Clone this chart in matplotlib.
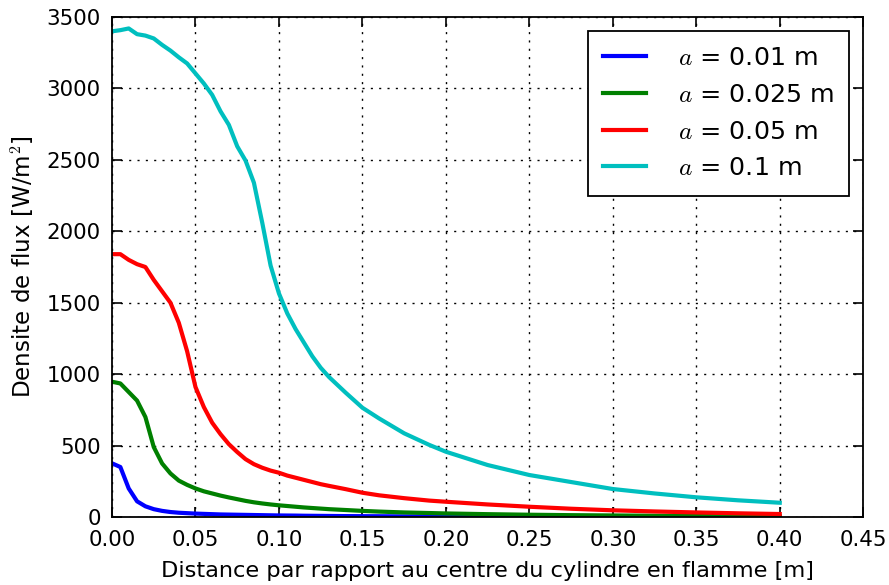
import numpy as np
import matplotlib
matplotlib.use('Agg')
import matplotlib.pyplot as plt

# distance from the cylinder centre [m]
distance = [0.0, 0.005, 0.01, 0.015, 0.02, 0.025, 0.03, 0.035, 0.04, 0.045,
            0.05, 0.055, 0.06, 0.065, 0.07, 0.075, 0.08, 0.085, 0.09, 0.095,
            0.1, 0.105, 0.11, 0.115, 0.12, 0.125, 0.13, 0.14, 0.15, 0.16,
            0.175, 0.19, 0.2, 0.225, 0.25, 0.275, 0.3, 0.325, 0.35, 0.375, 0.4]

# flux density [W/m^2] for each cylinder radius
flux_a001 = [376, 350, 200, 110, 75, 55, 43, 35, 30, 27,
             24, 22, 20, 18, 17, 16, 15, 14, 13, 12,
             11, 10.5, 10, 9, 8.5, 8, 7.5, 6.5, 6, 5.5,
             4.5, 4, 3.5, 3, 2.5, 2, 1.7, 1.5, 1.3, 1.1, 1]
flux_a0025 = [947, 935, 875, 815, 700, 490, 375, 305, 255, 225,
              200, 180, 165, 150, 137, 125, 113, 103, 95, 88,
              82, 77, 72, 67, 63, 59, 55, 49, 43, 38,
              32, 28, 25, 20, 16, 13, 11, 9, 8, 7, 6]
flux_a005 = [1840, 1840, 1800, 1770, 1750, 1660, 1580, 1500, 1360, 1160,
             910, 770, 660, 580, 510, 455, 405, 370, 345, 325,
             310, 290, 275, 260, 245, 230, 218, 195, 170, 152,
             132, 115, 107, 88, 72, 58, 47, 39, 32, 26, 21]
flux_a01 = [3400, 3408, 3420, 3380, 3370, 3350, 3305, 3265, 3218, 3175,
            3105, 3035, 2955, 2840, 2745, 2595, 2495, 2340, 2060, 1760,
            1565, 1425, 1315, 1220, 1125, 1045, 980, 870, 765, 690,
            586, 505, 457, 364, 294, 245, 196, 165, 138, 117, 100]

labels = [r'$a$ = 0.01 m', r'$a$ = 0.025 m', r'$a$ = 0.05 m', r'$a$ = 0.1 m']
colors = ['b', 'g', 'r', 'c']

plt.rcParams['mathtext.fontset'] = 'cm'
plt.rcParams['font.family'] = ['DejaVu Sans']

fig = plt.figure(figsize=(8.89, 5.85), dpi=100)
ax = fig.add_axes([0.126, 0.1162, 0.845, 0.8547])

for y, lab, c in zip([flux_a001, flux_a0025, flux_a005, flux_a01], labels, colors):
    ax.plot(distance, y, color=c, lw=3.0, label=lab)

ax.set_xlim(0, 0.45)
ax.set_ylim(0, 3500)
ax.set_xticks(np.arange(0, 0.451, 0.05))
ax.set_yticks(np.arange(0, 3501, 500))
ax.xaxis.set_major_formatter(plt.FormatStrFormatter('%.2f'))

ax.grid(True, color='k', linestyle=(0, (1.5, 4.5)), linewidth=1.0)
ax.tick_params(direction='in', top=True, right=True, length=7, width=1.2,
               labelsize=15.4)
ax.tick_params(axis='x', pad=9)
ax.tick_params(axis='y', pad=8)
for s in ax.spines.values():
    s.set_linewidth(1.3)

ax.set_xlabel('Distance par rapport au centre du cylindre en flamme [m]',
              fontsize=16.2, labelpad=8)
ax.set_ylabel(r'Densite de flux [W/m$^2$]', fontsize=16.6, labelpad=7)

leg = ax.legend(loc='upper right', fontsize=18.3, fancybox=False,
                handlelength=1.7, handletextpad=1.25, borderpad=0.6,
                borderaxespad=0.55)
leg.get_frame().set_edgecolor('k')
leg.get_frame().set_linewidth(1.3)
leg.get_frame().set_alpha(1)

fig.savefig('out.png', dpi=100, facecolor='white')
